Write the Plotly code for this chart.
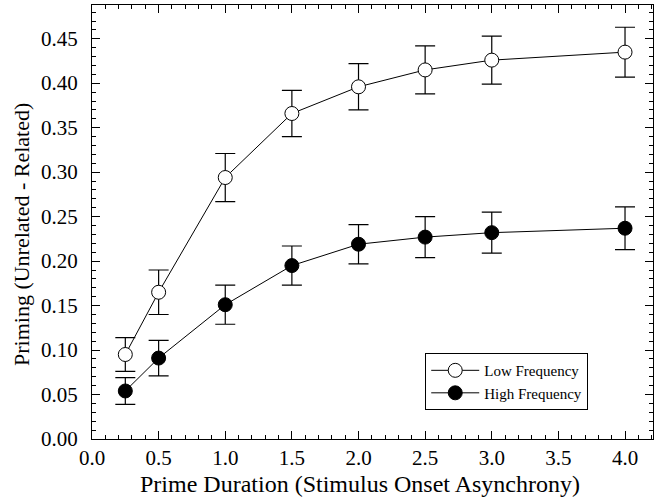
import plotly.graph_objects as go

x = [0.25, 0.5, 1.0, 1.5, 2.0, 2.5, 3.0, 4.0]
low_freq = [0.095, 0.165, 0.294, 0.366, 0.396, 0.415, 0.426, 0.435]
low_err = [0.019, 0.025, 0.027, 0.026, 0.026, 0.027, 0.027, 0.028]
high_freq = [0.054, 0.091, 0.151, 0.195, 0.219, 0.227, 0.232, 0.237]
high_err = [0.015, 0.020, 0.022, 0.022, 0.022, 0.023, 0.023, 0.024]
x_ticks = [0, 0.5, 1, 1.5, 2, 2.5, 3, 3.5, 4]
x_ticktext = ["0.0", "0.5", "1.0", "1.5", "2.0", "2.5", "3.0", "3.5", "4.0"]
y_ticks = [0, 0.05, 0.1, 0.15, 0.2, 0.25, 0.3, 0.35, 0.4, 0.45]
y_ticktext = ["0.00", "0.05", "0.10", "0.15", "0.20", "0.25", "0.30", "0.35", "0.40", "0.45"]

FONT = "Liberation Serif"

fig = go.Figure()
fig.add_trace(go.Scatter(
    x=x, y=low_freq, name="Low Frequency", mode="lines+markers",
    line=dict(color="black", width=1),
    marker=dict(symbol="circle", size=14, color="white", line=dict(color="black", width=1)),
    error_y=dict(type="data", array=low_err, color="black", thickness=1.2, width=10),
))
fig.add_trace(go.Scatter(
    x=x, y=high_freq, name="High Frequency", mode="lines+markers",
    line=dict(color="black", width=1),
    marker=dict(symbol="circle", size=14, color="black", line=dict(color="black", width=1)),
    error_y=dict(type="data", array=high_err, color="black", thickness=1.2, width=10),
))

axis_common = dict(
    showline=True, linecolor="black", linewidth=1.2, mirror="ticks",
    ticks="inside", ticklen=8, tickwidth=1, tickcolor="black",
    showgrid=False, zeroline=False, automargin=False,
    tickfont=dict(family=FONT, size=21, color="black"),
)
fig.update_xaxes(
    range=[0, 4.21], tickvals=x_ticks, ticktext=x_ticktext,
    minor=dict(dtick=0.1, ticks="inside", ticklen=4, tickcolor="black", tickwidth=1),
    **axis_common,
)
fig.update_yaxes(
    range=[0, 0.488], tickvals=y_ticks, showticklabels=False,
    minor=dict(dtick=0.01, ticks="inside", ticklen=4, tickcolor="black", tickwidth=1),
    **axis_common,
)
# y tick labels placed a little further from the axis, as in the reference
for v, t in zip(y_ticks, y_ticktext):
    fig.add_annotation(
        text=t, xref="paper", x=0, xshift=-12, yref="y", y=v,
        xanchor="right", yanchor="middle", showarrow=False,
        font=dict(family=FONT, size=21, color="black"),
    )
fig.add_annotation(
    text="Prime Duration (Stimulus Onset Asynchrony)", xref="paper", yref="paper",
    x=0.478, y=0, yshift=-45, xanchor="center", yanchor="middle", showarrow=False,
    font=dict(family=FONT, size=24, color="black"),
)
fig.add_annotation(
    text="Priming (Unrelated - Related)", xref="paper", yref="paper",
    x=0, xshift=-71, y=0.47, xanchor="center", yanchor="middle", textangle=-90,
    showarrow=False, font=dict(family=FONT, size=22, color="black"),
)
fig.update_layout(
    width=654, height=497,
    margin=dict(l=92, r=1, t=5, b=58),
    plot_bgcolor="white", paper_bgcolor="white",
    showlegend=True,
    legend=dict(
        x=0.594, y=0.198, xanchor="left", yanchor="top",
        bordercolor="black", borderwidth=1, bgcolor="white",
        font=dict(family=FONT, size=15, color="black"),
        tracegroupgap=0, itemwidth=48,
    ),
)
fig.write_html("out.html", config={"displayModeBar": False},
               post_script="document.body.style.margin='0px';")
